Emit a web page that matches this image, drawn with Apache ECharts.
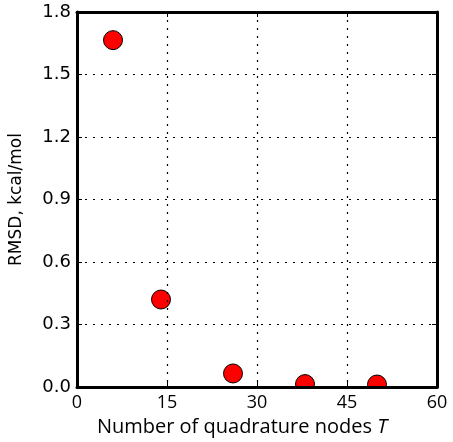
<!DOCTYPE html>
<html>
<head>
<meta charset="UTF-8">
<script src="https://cdn.jsdelivr.net/npm/echarts@6/dist/echarts.min.js"></script>
<style>body{margin:0;background:#fff}</style>
</head>
<body>
<div id="main" style="width:453px;height:442px;"></div>
<script>
var nodes = [6, 14, 26, 38, 50];
var rmsd = [1.665, 0.42, 0.065, 0.014, 0.012];
var xTicks = [0, 15, 30, 45, 60];
var yTicks = [0, 0.3, 0.6, 0.9, 1.2, 1.5, 1.8];

var myChart = echarts.init(document.getElementById('main'));
var pts = nodes.map(function (n, i) { return [n, rmsd[i]]; });
var frame = { show: true, onZero: false, lineStyle: { color: '#000', width: 3 } };
var tick = { show: true, inside: true, length: 5, lineStyle: { color: '#000', width: 1 } };
var grids = { show: true, lineStyle: { color: '#000', type: [2, 6], width: 1.2 } };

option = {
  animation: false,
  grid: { left: 77, right: 16, top: 12, bottom: 55, containLabel: false, outerBoundsMode: 'none' },
  xAxis: [{
    type: 'value', min: xTicks[0], max: xTicks[xTicks.length - 1], interval: 15, z: 200,
    axisLine: frame, axisTick: tick, splitLine: grids,
    axisLabel: { margin: 7, color: '#000', fontSize: 18, fontFamily: 'Open Sans' },
    name: '{n|Number of quadrature nodes }{t|T}',
    nameLocation: 'middle', nameGap: 30,
    nameTextStyle: {
      padding: [0, 30, 0, 0],
      rich: {
        n: { fontSize: 20, fontFamily: 'Open Sans', color: '#000' },
        t: { fontSize: 20, fontFamily: 'Open Sans', fontStyle: 'italic', color: '#000' }
      }
    }
  }, {
    type: 'value', position: 'top', min: 0, max: 60, interval: 15, z: 200,
    axisLine: frame, axisTick: tick, axisLabel: { show: false }, splitLine: { show: false }
  }],
  yAxis: [{
    type: 'value', min: yTicks[0], max: yTicks[yTicks.length - 1], interval: 0.3, z: 200,
    axisLine: frame, axisTick: tick, splitLine: grids,
    axisLabel: { margin: 6, color: '#000', fontSize: 18, fontFamily: 'DejaVu Sans',
      formatter: function (v) { return v.toFixed(1); } },
    name: 'RMSD, kcal/mol', nameLocation: 'middle', nameGap: 52,
    nameTextStyle: { fontSize: 17, fontFamily: 'DejaVu Sans', color: '#000' }
  }, {
    type: 'value', position: 'right', min: 0, max: 1.8, interval: 0.3, z: 200,
    axisLine: frame, axisTick: tick, axisLabel: { show: false }, splitLine: { show: false }
  }],
  series: [{
    // custom circles so that clip cuts them at the frame like the original
    type: 'custom', data: pts, clip: true, z: 2,
    renderItem: function (params, api) {
      var p = api.coord([api.value(0), api.value(1)]);
      return {
        type: 'circle',
        shape: { cx: p[0], cy: p[1], r: 9.5 },
        style: { fill: '#ff0000', stroke: '#000', lineWidth: 1 }
      };
    }
  }]
};
myChart.setOption(option);
</script>
</body>
</html>
